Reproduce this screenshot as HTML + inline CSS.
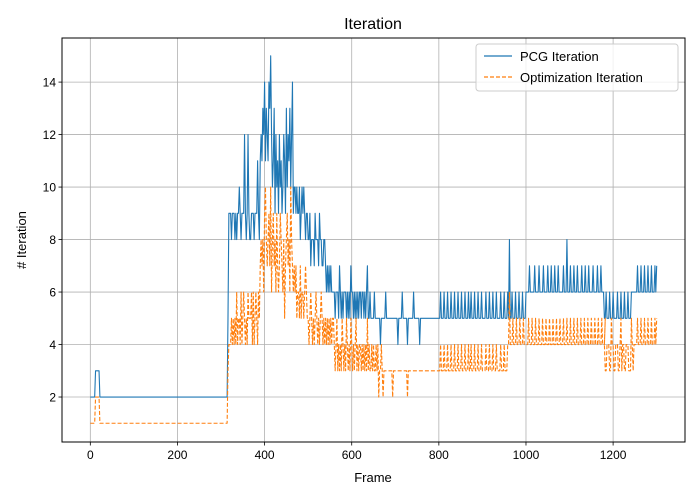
<!DOCTYPE html>
<html><head><meta charset="utf-8"><style>
html,body{margin:0;padding:0;background:#fff;}
svg{display:block;font-family:"Liberation Sans","DejaVu Sans",sans-serif;}
</style></head><body>
<svg id="chart" width="700" height="500" viewBox="0 0 700 500" xmlns="http://www.w3.org/2000/svg">
<rect x="0" y="0" width="700" height="500" fill="#fff"/>
<text x="373" y="29" font-size="16" text-anchor="middle">Iteration</text>
<g id="grid"></g>
<g id="series"></g>
<rect x="62" y="38" width="623" height="404" fill="none" stroke="#000" stroke-width="1"/>
<g id="ticks"></g>
<text x="373" y="482" font-size="13" text-anchor="middle">Frame</text>
<text x="26" y="240" font-size="13" text-anchor="middle" transform="rotate(-90 26 240)"># Iteration</text>
<g>
<rect x="476" y="44" width="202" height="47" rx="3" fill="#fff" fill-opacity="0.8" stroke="#ccc"/>
<line x1="484" y1="56" x2="512" y2="56" stroke="#1f77b4" stroke-width="1.2"/>
<text x="520" y="61" font-size="13">PCG Iteration</text>
<line x1="484" y1="77" x2="512" y2="77" stroke="#ff7f0e" stroke-width="1.2" stroke-dasharray="4,2"/>
<text x="520" y="82" font-size="13">Optimization Iteration</text>
</g>
</svg>
<script>
// Each segment: [startFrame, string]; each character = value held for 2 frames (hex for >=10).
const pcgSegments = [
 [0,"222222"],[12,"33333"],[22,"2".repeat(147)],
 [316,"5999899"],
 [330,"989899a98999c989c9889998999b98"],
 [390,"bcbdcebdcbedfcabd9cab9cab9acb9dacbdace9a"],
 [470,"a9a99a89a9a9899"],
 [500,"88978887988879887788"],
 [540,"7676767666"],
 [560,"65666576565666565657"],
 [600,"66565656566566565675"],
 [640,"565555655555545555565555555555"],
 [700,"55545555655555455555565555554555555555555555555555"],
 [800,"55655565556555655565556555655565556556555655565556555565556555655565555655565556"],
 [960,"58556555655565556555"],
 [1000,"666676666676666766667666676667666766676666676668666766676667666676667666766667666676667666"],
 [1180,"55655565556555565556555655565556666"],
 [1250,"66676667666766676667666767"]
];
const optSegments = [
 [0,"111111"],[12,"22222"],[22,"1".repeat(147)],
 [316,"3444545"],
 [330,"454645546456545465556464565465"],
 [390,"787869a87897a6897869767987685789786a8767"],
 [470,"675665756656765"],
 [500,"54565454565454565454"],
 [540,"5454545455"],
 [560,"434534343543435434354343453434"],
 [620,"434343435343343433434233432333"],
 [680,"333333323333333333333333233333333333333333333333333333333333"],
 [800,"33433343334333433343334333433343334334333433343334333343334333433343333433343334"],
 [960,"46444544454445444544"],
 [1000,"44454445444544454445444544454445444544454445444544454445444544454445444544454445444544454445"],
 [1180,"43344433544334443345344334443335434"],
 [1250,"44454445444544454445444545"]
];
const xTicks = [0,200,400,600,800,1000,1200];
const yTicks = [2,4,6,8,10,12,14];
const xDomain = [-65,1365];
const yDomain = [0.286,15.68];

const L=62,R=685,T=38,B=442;
function xs(v){return L+(v-xDomain[0])/(xDomain[1]-xDomain[0])*(R-L);}
function ys(v){return B-(v-yDomain[0])/(yDomain[1]-yDomain[0])*(B-T);}
const NS="http://www.w3.org/2000/svg";
function mk(tag,attrs,parent){const e=document.createElementNS(NS,tag);for(const k in attrs)e.setAttribute(k,attrs[k]);parent.appendChild(e);return e;}
const grid=document.getElementById('grid'),ticks=document.getElementById('ticks'),series=document.getElementById('series');
xTicks.forEach(t=>{
 const x=xs(t);
 const g=mk('line',{x1:x,x2:x,y1:T,y2:B,stroke:'#b0b0b0','stroke-width':0.8},grid);
 
 
 const tk=mk('line',{x1:x,x2:x,y1:B,y2:B+3.5,stroke:'#000','stroke-width':0.8},ticks);
 
 
 const lb=mk('text',{x:x,y:B+17,'font-size':12,'text-anchor':'middle'},ticks);
 lb.textContent=t;
 
 
});
yTicks.forEach(t=>{
 const y=ys(t);
 const g=mk('line',{x1:L,x2:R,y1:y,y2:y,stroke:'#b0b0b0','stroke-width':0.8},grid);
 
 
 const tk=mk('line',{x1:L-3.5,x2:L,y1:y,y2:y,stroke:'#000','stroke-width':0.8},ticks);
 
 
 const lb=mk('text',{x:L-6,y:y+4.5,'font-size':12,'text-anchor':'end'},ticks);
 lb.textContent=t;
 
 
});
function expand(segs){
 const pts=[];
 segs.forEach(([start,str])=>{for(let i=0;i<str.length;i++){pts.push([start+2*i,parseInt(str[i],16)]);}});
 return pts;
}
function draw(segs,color,dash,name){
 const pts=expand(segs);
 const p=mk('polyline',{points:pts.map(([f,v])=>xs(f).toFixed(2)+','+ys(v).toFixed(2)).join(' '),fill:'none',stroke:color,'stroke-width':1.1,'stroke-linejoin':'round'},series);
 if(dash)p.setAttribute('stroke-dasharray',dash);
 
 
}
draw(pcgSegments,'#1f77b4',null,'pcg-iteration-line');
draw(optSegments,'#ff7f0e','4,2','optimization-iteration-line');
</script>
</body></html>
